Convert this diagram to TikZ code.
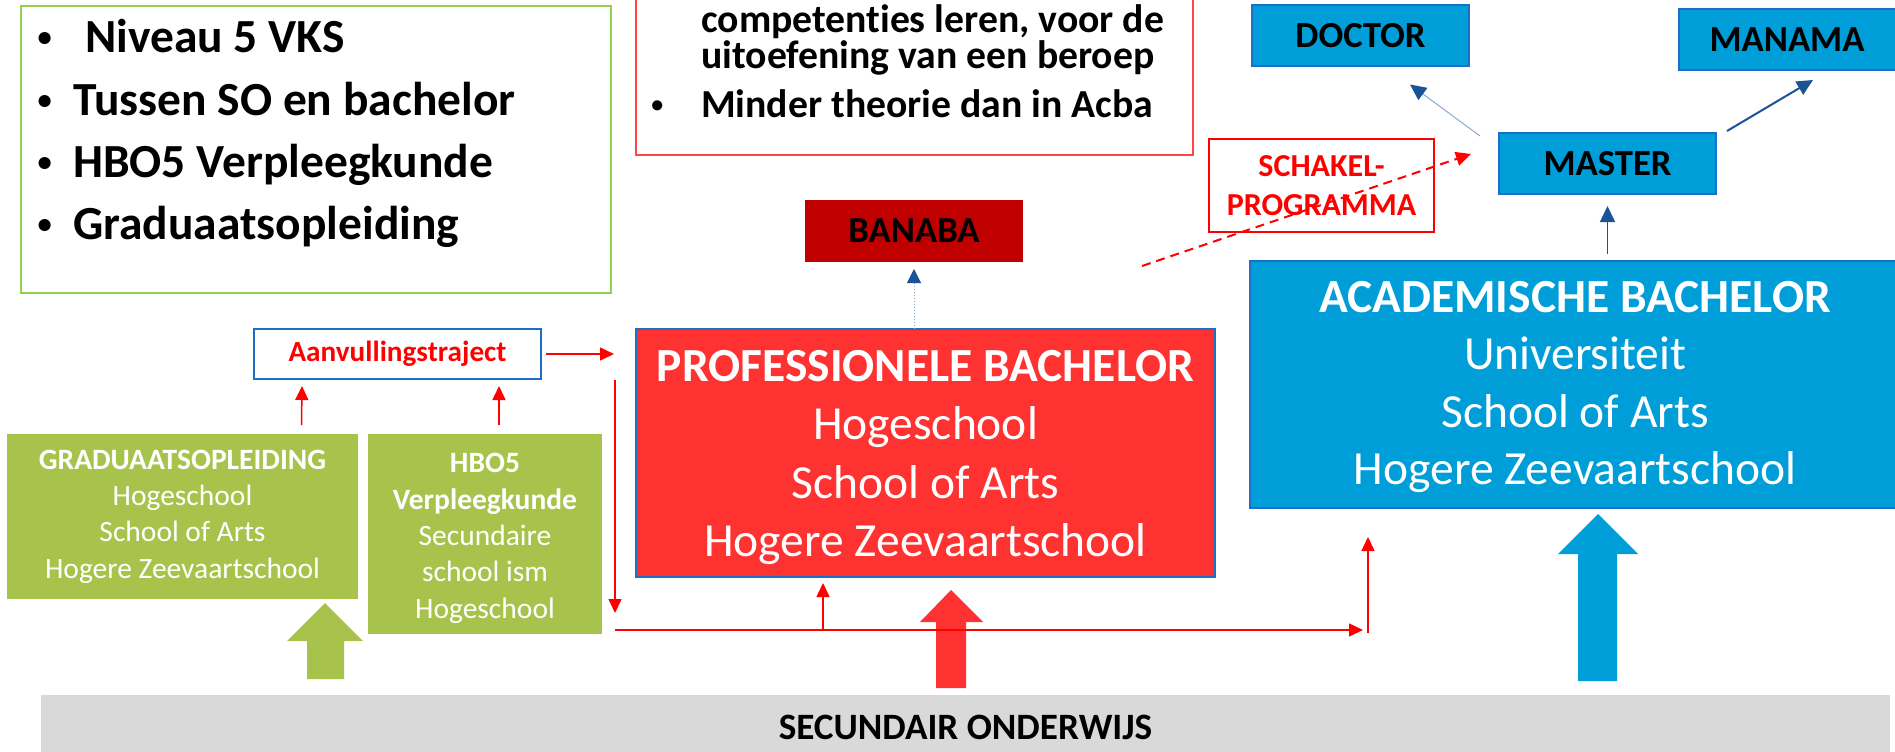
\documentclass[tikz,border=0pt]{standalone}
\usepackage{fontspec}
\usepackage{graphicx}
\setmainfont{Carlito}[Ligatures=NoCommon]
\usetikzlibrary{arrows.meta}

\definecolor{grn}{RGB}{168,195,76}
\definecolor{lgrn}{RGB}{146,208,80}
\definecolor{lred}{RGB}{255,70,70}
\definecolor{pbred}{RGB}{255,50,50}
\definecolor{banred}{RGB}{192,0,0}
\definecolor{azure}{RGB}{0,158,216}
\definecolor{rim}{RGB}{30,110,200}
\definecolor{navy}{RGB}{25,85,150}
\definecolor{paleblue}{RGB}{140,170,205}
\definecolor{arrred}{RGB}{255,0,0}
\definecolor{lgray}{RGB}{217,217,217}
\newcommand{\fsz}[2]{\fontsize{#1}{#2}\selectfont}
\newcommand{\dotmark}{\makebox[0pt]{\raisebox{0.12em}{\scalebox{0.6}{\textbullet}}}}

\begin{document}
\begin{tikzpicture}[x=1pt,y=-1pt,
    box/.style={inner sep=0pt,outer sep=0pt,align=center},
    grnbox/.style={box,fill=grn,text=white,font=\fsz{29.5}{36.3}},
    bluebox/.style={box,fill=azure,draw=rim,line width=2pt},
    tagbox/.style={bluebox,text=black,font=\fsz{36.7}{44}\bfseries,minimum width=217pt,minimum height=61pt},
    listtxt/.style={anchor=base west,inner sep=0pt,font=\fsz{47.5}{57}\bfseries},
    infotxt/.style={anchor=base west,inner sep=0pt,font=\fsz{39.7}{48}\bfseries},
    redarr/.style={draw=arrred,line width=1.5pt,-{Triangle[length=14pt,width=13pt]}},
    bluearr/.style={draw=navy,line width=2pt,-{Triangle[length=16pt,width=15pt]}}]
            \useasboundingbox (0,0) rectangle (1895,752);
            \clip (0,0) rectangle (1895,752);
            \fill[white] (0,0) rectangle (1895,752);

            \node[box,draw=lgrn,line width=2pt,minimum width=590pt,minimum height=287pt] (intro) at (316,149.5) {};
            \node[listtxt] (i1) at (44.5,52.5) {\dotmark\hspace{40.5pt}Niveau 5 VKS};
            \node[listtxt] (i2) at (44.5,115) {\dotmark\hspace{28.5pt}Tussen SO en bachelor};
            \node[listtxt] (i3) at (44.5,177) {\dotmark\hspace{28.5pt}HBO5 Verpleegkunde};
            \node[listtxt] (i4) at (44.5,239.5) {\dotmark\hspace{28.5pt}Graduaatsopleiding};

            \node[box,draw=lred,line width=2pt,fill=white,minimum width=557pt,minimum height=200pt] (pbinfo) at (914.5,55) {};
            \node[infotxt] (p1) at (701,33) {competenties leren, voor de};
            \node[infotxt] (p2) at (701,69) {uitoefening van een beroep};
            \node[infotxt] (p3) at (657,117) {\dotmark\hspace{44pt}Minder theorie dan in Acba};

            \node[box,fill=lgray,minimum width=1849pt,minimum height=64pt,font=\fsz{37.2}{44}\bfseries] (so) at (965.5,727) {SECUNDAIR ONDERWIJS};

            \node[grnbox,minimum width=351pt,minimum height=165pt] (grad) at (182.5,516.5) {{\bfseries GRADUAATSOPLEIDING}\\Hogeschool\\School of Arts\\Hogere Zeevaartschool};
            \node[grnbox,minimum width=234pt,minimum height=200pt] (hbo) at (485,534) {\rule{0pt}{28pt}{\bfseries HBO5}\\{\bfseries Verpleegkunde}\\Secundaire\\school ism\\Hogeschool};
            \node[box,draw=rim,line width=2pt,fill=white,text=arrred,minimum width=287pt,minimum height=50pt,font=\fsz{29.2}{35}\bfseries] (aanv) at (397.5,354) {Aanvullingstraject};

            \node[box,fill=pbred,draw=rim,line width=2pt,text=white,minimum width=579pt,minimum height=248pt,font=\fsz{47.5}{58.5}] (pb) at (925.5,453) {\rule{0pt}{40pt}{\bfseries PROFESSIONELE BACHELOR}\\Hogeschool\\School of Arts\\Hogere Zeevaartschool};
            \node[bluebox,text=white,minimum width=650pt,minimum height=247pt,font=\fsz{47.5}{57.3}] (acba) at (1575,384.5) {\rule{0pt}{36pt}{\bfseries ACADEMISCHE BACHELOR}\\Universiteit\\School of Arts\\Hogere Zeevaartschool};
            \node[box,fill=banred,text=black,minimum width=218pt,minimum height=62pt,font=\fsz{36.7}{44}\bfseries] (banaba) at (914,231) {BANABA};

            \node[tagbox] (doctor) at (1360.5,36) {DOCTOR};
            \node[tagbox] (master) at (1607.5,163.5) {MASTER};
            \node[tagbox] (manama) at (1787,39.5) {MANAMA};
            \node[box,draw=arrred,line width=2pt,text=arrred,minimum width=225pt,minimum height=93pt,font=\fsz{32}{39}\bfseries] (schakel) at (1321.5,185.5) {SCHAKEL-\\PROGRAMMA};

            \fill[grn] (325,603)--(363,641)--(344,641)--(344,679)--(307,679)--(307,641)--(287,641)--cycle;
            \fill[pbred] (951,590)--(983,622)--(966,622)--(966,688)--(936,688)--(936,622)--(920,622)--cycle;
            \fill[azure] (1598,514)--(1638,554)--(1617,554)--(1617,681)--(1578,681)--(1578,554)--(1558,554)--cycle;

            \coordinate (drop) at (615,380);
            \coordinate (rail) at (615,630);
            \coordinate (branch) at (823,630);
            \coordinate (lift) at (1368,633);
            \coordinate (bridge) at (1142,266);
            \draw[redarr] ([shift={(119,-9)}]grad.north)--([shift={(-95.5,7)}]aanv.south);
            \draw[redarr] ([shift={(14,-9)}]hbo.north)--([shift={(101.5,7)}]aanv.south);
            \draw[redarr,shorten <=5pt,shorten >=22pt] (aanv.east)--(aanv.east -| pb.west);
            \draw[redarr,shorten >=17pt] (drop)--(rail);
            \draw[redarr,shorten >=5pt] (rail)--(rail -| lift);
            \draw[redarr,shorten >=6pt] (branch)--(branch |- pb.south);
            \draw[redarr,shorten >=29pt] (lift)--(lift |- acba.south);
            \draw[draw=arrred,line width=2pt,dash pattern=on 9pt off 6pt,-{Triangle[length=15pt,width=14pt]}] (bridge)--([shift={(-28,-9.5)}]master.west);

            \draw[draw=paleblue,line width=1pt,dotted,shorten >=7pt,-{Triangle[length=14pt,width=14pt,color=navy]}] (banaba.south |- pb.north)--(banaba.south);
            \draw[bluearr,line width=1.5pt,shorten <=7pt,shorten >=12pt] (master.south |- acba.north)--(master.south);
            \draw[draw=paleblue,line width=1pt,-{Triangle[length=16pt,width=15pt,color=navy]}] ([shift={(-19,3)}]master.north west)--([shift={(-59,18)}]doctor.south east);
            \draw[bluearr] ([shift={(11,-2)}]master.north east)--([shift={(26,10)}]manama.south);
        \end{tikzpicture}
\end{document}
